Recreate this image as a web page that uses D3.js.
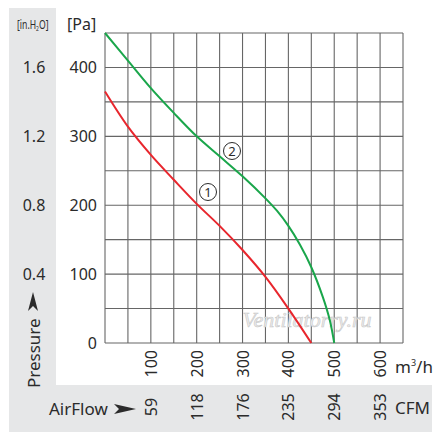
<!DOCTYPE html>
<html>
<head>
<meta charset="utf-8">
<script src="https://cdn.jsdelivr.net/npm/d3@7"></script>
<style>
  html, body { margin: 0; padding: 0; background: #fff; }
  svg { display: block; font-family: "Noto Sans", "Open Sans", sans-serif; }
</style>
</head>
<body>
<script>
// Data
const flow_1 = [0, 50, 100, 150, 200, 250, 300, 350, 400, 450]
const pressure_1 = [365, 314, 273, 237, 202, 170, 135, 96, 50, 0]
const flow_2 = [0, 50, 100, 150, 200, 250, 300, 350, 375, 400, 425, 450, 475, 490, 500]
const pressure_2 = [450, 410, 370, 334, 300, 271, 242, 210, 192, 170, 143, 110, 67, 34, 0]

const pa_ticks = [0, 100, 200, 300, 400]
const inh2o_ticks = ['0.4', '0.8', '1.2', '1.6'] // next to 100..400 Pa
const flow_ticks = [100, 200, 300, 400, 500, 600]
const cfm_ticks = ['59', '118', '176', '235', '294', '353']

const W = 440, H = 441
const grey_bg = '#e6e7e8'
const text_color = '#2b2b2b'

const svg = d3.select('body').append('svg')
  .attr('width', W).attr('height', H)

// grey L-shaped panel
svg.append('path')
  .attr('d', 'M9,8 H56 V385 H432 V432 H9 Z')
  .attr('fill', grey_bg)

// Scales
const x = d3.scaleLinear().domain([0, 650]).range([105, 403])
const y = d3.scaleLinear().domain([0, 450]).range([343, 33])

// Grid
const grid = svg.append('g').attr('stroke', '#666').attr('stroke-width', 1.1)
grid.selectAll('line.v')
  .data(d3.range(0, 651, 50))
  .enter().append('line')
    .attr('x1', d => x(d)).attr('x2', d => x(d))
    .attr('y1', y(450)).attr('y2', y(0))
grid.selectAll('line.h')
  .data(d3.range(0, 451, 50))
  .enter().append('line')
    .attr('x1', x(0)).attr('x2', x(650))
    .attr('y1', d => y(d)).attr('y2', d => y(d))

// Watermark
svg.append('text')
  .attr('x', 307).attr('y', 327)
  .attr('text-anchor', 'middle')
  .attr('font-family', '"Liberation Serif", serif')
  .attr('font-style', 'italic')
  .attr('font-size', 22)
  .attr('fill', '#ececec')
  .attr('stroke', '#c9c9c9')
  .attr('stroke-width', 0.6)
  .text('Ventilatorry.ru')

// Curves
const line = d3.line()
  .x(d => x(d[0])).y(d => y(d[1]))
  .curve(d3.curveCatmullRom.alpha(0.5))

svg.append('path')
  .datum(d3.zip(flow_1, pressure_1))
  .attr('d', line)
  .attr('fill', 'none').attr('stroke', '#e8262d').attr('stroke-width', 2)

svg.append('path')
  .datum(d3.zip(flow_2, pressure_2))
  .attr('d', line)
  .attr('fill', 'none').attr('stroke', '#1aa64b').attr('stroke-width', 2)

// Curve labels (circled numbers)
const curve_labels = [['1', 208, 192], ['2', 232, 151]]
const badge = svg.selectAll('g.badge')
  .data(curve_labels)
  .enter().append('g')
    .attr('transform', d => `translate(${d[1]},${d[2]})`)
badge.append('circle').attr('r', 8.5)
  .attr('fill', '#fff').attr('stroke', text_color).attr('stroke-width', 1)
badge.append('text')
  .attr('text-anchor', 'middle').attr('dominant-baseline', 'central')
  .attr('font-size', 13).attr('fill', text_color)
  .text(d => d[0])

// Pa axis
const pa_axis = svg.append('g')
  .attr('transform', 'translate(97,0)')
  .call(d3.axisLeft(y).tickValues(pa_ticks).tickSize(0).tickPadding(0))
pa_axis.select('.domain').remove()
pa_axis.selectAll('text')
  .attr('font-family', '"Noto Sans", sans-serif')
  .attr('font-size', 16).attr('fill', text_color)

// in.H2O labels
svg.selectAll('text.inh2o')
  .data(inh2o_ticks)
  .enter().append('text')
    .attr('x', 34).attr('y', (d, i) => y(pa_ticks[i + 1]))
    .attr('text-anchor', 'middle').attr('dominant-baseline', 'central')
    .attr('font-size', 16).attr('fill', text_color)
    .text(d => d)

// Unit labels
svg.append('text').attr('x', 67).attr('y', 30)
  .attr('font-size', 16).attr('fill', text_color).text('[Pa]')
const inh2o_unit = svg.append('text')
  .attr('transform', 'translate(17,29) scale(0.72,1)')
  .attr('font-size', 12).attr('fill', text_color)
inh2o_unit.append('tspan').text('[in.H')
inh2o_unit.append('tspan').attr('font-size', 7).attr('dy', 2).text('2')
inh2o_unit.append('tspan').attr('dy', -2).text('O]')

// flow (m3/h) axis, rotated labels
svg.selectAll('text.flow')
  .data(flow_ticks)
  .enter().append('text')
    .attr('transform', d => `translate(${x(d)},350) rotate(-90)`)
    .attr('text-anchor', 'end').attr('dominant-baseline', 'central')
    .attr('font-size', 16).attr('fill', text_color)
    .text(d => d)

// CFM labels
svg.selectAll('text.cfm')
  .data(cfm_ticks)
  .enter().append('text')
    .attr('transform', (d, i) => `translate(${x(flow_ticks[i])},407) rotate(-90)`)
    .attr('text-anchor', 'middle').attr('dominant-baseline', 'central')
    .attr('font-size', 16).attr('fill', text_color)
    .text(d => d)

const m3 = svg.append('text').attr('x', 395).attr('y', 373)
  .attr('font-size', 17).attr('fill', text_color)
m3.append('tspan').text('m')
m3.append('tspan').attr('font-size', 9).attr('dy', -7).text('3')
m3.append('tspan').attr('dy', 7).text('/h')

svg.append('text').attr('x', 395).attr('y', 414)
  .attr('font-size', 17).attr('fill', text_color).text('CFM')

// AirFlow + arrow
svg.append('text').attr('x', 49).attr('y', 415)
  .attr('font-size', 17).attr('fill', text_color).text('AirFlow')
svg.append('path')
  .attr('d', 'M114,404 L136,409 L114,414 L119,409 Z')
  .attr('fill', text_color)

// Pressure + arrow (rotated)
svg.append('text')
  .attr('transform', 'translate(33,388) rotate(-90)')
  .attr('dominant-baseline', 'central')
  .attr('font-size', 17).attr('fill', text_color).text('Pressure')
svg.append('path')
  .attr('d', 'M28,311 L33,292 L38,311 L33,306 Z')
  .attr('fill', text_color)
</script>
</body>
</html>
